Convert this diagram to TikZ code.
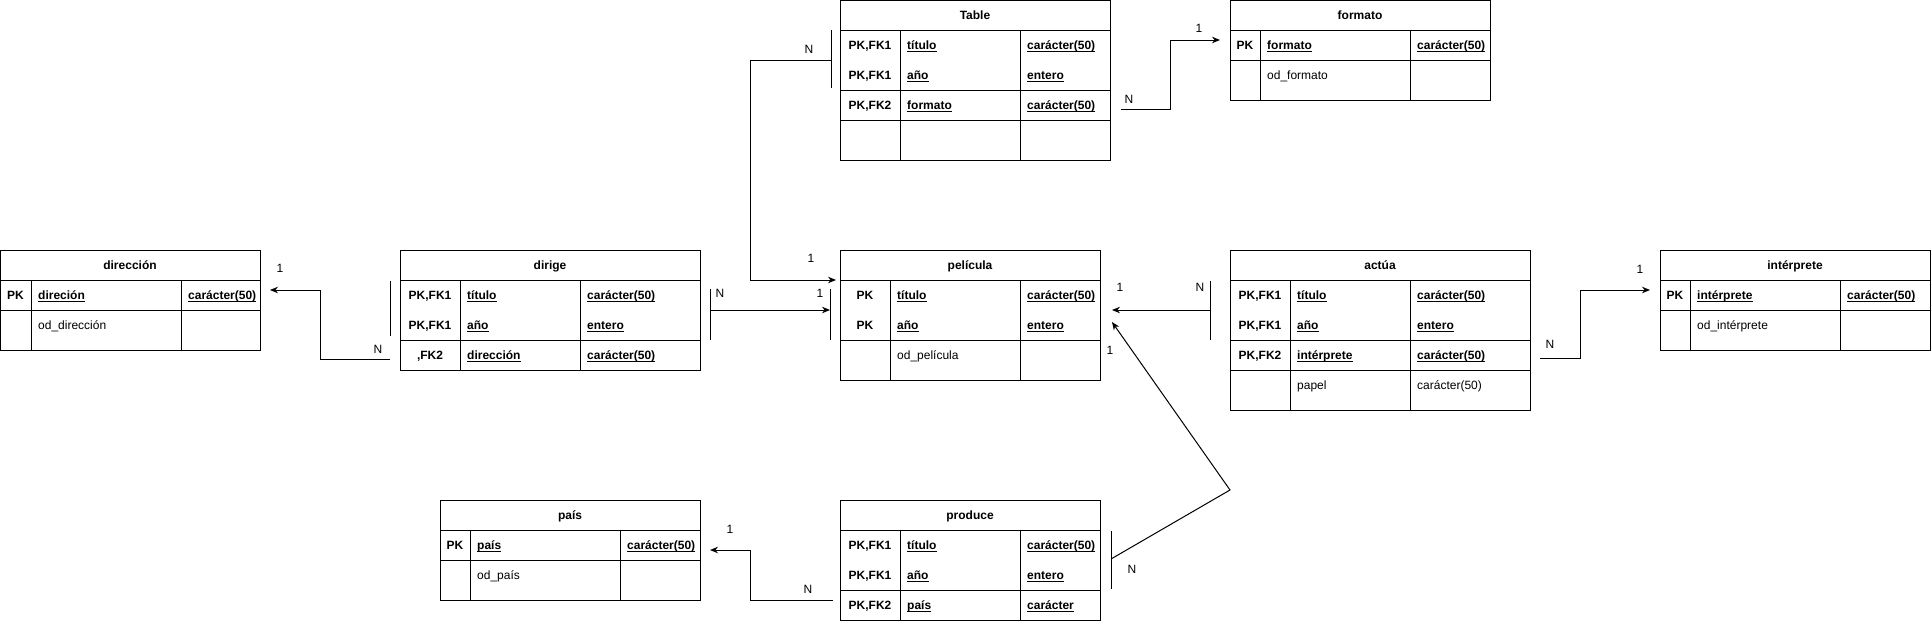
\documentclass[tikz,border=0pt]{standalone}
\usepackage{fontspec}
\setmainfont{Liberation Sans}
\usetikzlibrary{arrows.meta}
\newsavebox\ulbox
\newcommand{\ulfld}[1]{\sbox\ulbox{#1}\rlap{\rule[-1.9pt]{\wd\ulbox}{0.9pt}}\usebox\ulbox}
\tikzset{
  tbl/.style={draw, rectangle, anchor=north west, inner sep=0pt, outer sep=0pt, line width=1pt},
  tline/.style={line width=1pt},
  txt/.style={inner sep=0pt, font=\fontsize{12}{14}\selectfont},
  hdr/.style={txt, font=\fontsize{12}{14}\selectfont\bfseries, anchor=base},
  keyt/.style={txt, font=\fontsize{12}{14}\selectfont\bfseries, anchor=base},
  fldk/.style={txt, font=\fontsize{12}{14}\selectfont\bfseries, anchor=base west},
  fld/.style={txt, anchor=base west},
  card/.style={txt, anchor=center},
  conn/.style={line width=1pt, -{Stealth[length=8pt,width=6.5pt]}},
}
% #1 name #2 x0 #3 y0 #4 width #5 height #6 c1 #7 c2
\newcommand{\ertab}[7]{%
  \node[tbl, minimum width=#4pt, minimum height=#5pt] (#1) at (#2,#3) {};
  \draw[tline] (#2,#3+30) -- ++(#4,0);
  \draw[tline] (#6,#3+30) -- (#6,#3+#5);
  \draw[tline] (#7,#3+30) -- (#7,#3+#5);
}
\newcommand{\krow}[8]{%
  \node[keyt] (#1-k) at (#2,#5) {#6};
  \node[fldk] (#1-f) at (#3,#5) {\ulfld{#7}};
  \node[fldk] (#1-t) at (#4,#5) {\ulfld{#8}};
}
\begin{document}
\begin{tikzpicture}[x=1pt,y=-1pt]
\useasboundingbox (0,0) rectangle (1931,621);

% ---------- dirección
\ertab{direccion}{0.5}{250}{259.5}{100}{31}{181}
\draw[tline] (0.5,310) -- (260,310);
\node[hdr] (direccion-h) at (130,269.5) {dirección};
\krow{dn1}{15.5}{38}{188}{299.5}{PK}{direción}{carácter(50)}
\node[fld] (dn2-f) at (38,329.5) {od\_dirección};

% ---------- dirige
\ertab{dirige}{400}{250}{300}{120}{460}{580}
\draw[tline] (400,340) -- (700,340);
\node[hdr] (dirige-h) at (550,269.5) {dirige};
\krow{dg1}{430}{467}{587}{299.5}{PK,FK1}{título}{carácter(50)}
\krow{dg2}{430}{467}{587}{329.5}{PK,FK1}{año}{entero}
\krow{dg3}{430}{467}{587}{359.5}{,FK2}{dirección}{carácter(50)}

% ---------- Table
\ertab{table}{840}{0.5}{270}{159.5}{900}{1020}
\draw[tline] (840,90) -- (1110,90);
\draw[tline] (840,120) -- (1110,120);
\node[hdr] (table-h) at (975,19.5) {Table};
\krow{tb1}{870}{907}{1027}{49.5}{PK,FK1}{título}{carácter(50)}
\krow{tb2}{870}{907}{1027}{79.5}{PK,FK1}{año}{entero}
\krow{tb3}{870}{907}{1027}{109.5}{PK,FK2}{formato}{carácter(50)}

% ---------- formato
\ertab{formato}{1230}{0.5}{260}{99.5}{1260}{1410}
\draw[tline] (1230,60) -- (1490,60);
\node[hdr] (formato-h) at (1360,19.5) {formato};
\krow{fm1}{1245}{1267}{1417}{49.5}{PK}{formato}{carácter(50)}
\node[fld] (fm2-f) at (1267,79.5) {od\_formato};

% ---------- película
\ertab{pelicula}{840}{250}{260}{130}{890}{1020}
\draw[tline] (840,340) -- (1100,340);
\node[hdr] (pelicula-h) at (970,269.5) {película};
\krow{pl1}{865}{897}{1027}{299.5}{PK}{título}{carácter(50)}
\krow{pl2}{865}{897}{1027}{329.5}{PK}{año}{entero}
\node[fld] (pl3-f) at (897,359.5) {od\_película};

% ---------- actúa
\ertab{actua}{1230}{250}{300}{160}{1290}{1410}
\draw[tline] (1230,340) -- (1530,340);
\draw[tline] (1230,370) -- (1530,370);
\node[hdr] (actua-h) at (1380,269.5) {actúa};
\krow{ac1}{1260}{1297}{1417}{299.5}{PK,FK1}{título}{carácter(50)}
\krow{ac2}{1260}{1297}{1417}{329.5}{PK,FK1}{año}{entero}
\krow{ac3}{1260}{1297}{1417}{359.5}{PK,FK2}{intérprete}{carácter(50)}
\node[fld] (ac4-f) at (1297,389.5) {papel};
\node[fld] (ac4-t) at (1417,389.5) {carácter(50)};

% ---------- intérprete
\ertab{interprete}{1660}{250}{270}{100}{1690}{1840}
\draw[tline] (1660,310) -- (1930,310);
\node[hdr] (interprete-h) at (1795,269.5) {intérprete};
\krow{in1}{1675}{1697}{1847}{299.5}{PK}{intérprete}{carácter(50)}
\node[fld] (in2-f) at (1697,329.5) {od\_intérprete};

% ---------- país
\ertab{pais}{440}{500}{260}{100}{470}{620}
\draw[tline] (440,560) -- (700,560);
\node[hdr] (pais-h) at (570,519.5) {país};
\krow{ps1}{455}{477}{627}{549.5}{PK}{país}{carácter(50)}
\node[fld] (ps2-f) at (477,579.5) {od\_país};

% ---------- produce
\ertab{produce}{840}{500}{260}{120}{900}{1020}
\draw[tline] (840,590) -- (1100,590);
\node[hdr] (produce-h) at (970,519.5) {produce};
\krow{pr1}{870}{907}{1027}{549.5}{PK,FK1}{título}{carácter(50)}
\krow{pr2}{870}{907}{1027}{579.5}{PK,FK1}{año}{entero}
\krow{pr3}{870}{907}{1027}{609.5}{PK,FK2}{país}{carácter}

% ---------- cardinality bars
\draw[tline] (390,281) -- (390,336);
\draw[tline] (710,289) -- (710,340);
\draw[tline] (830,289) -- (830,340);
\draw[tline] (831,30) -- (831,88);
\draw[tline] (1210,281) -- (1210,340);
\draw[tline] (1111,531) -- (1111,589);

% ---------- connectors
\coordinate (c1s) at (390,359);
\coordinate (c1e) at (270,290);
\draw[conn] (c1s) -- (320,359) -- (320,290) -- (c1e);
\node[card] (c1n) at (378,349) {N};
\node[card] (c1o) at (280,268) {1};

\coordinate (c2s) at (710,310);
\coordinate (c2e) at (830,310);
\draw[conn] (c2s) -- (c2e);
\node[card] (c2n) at (720,293) {N};
\node[card] (c2o) at (820,293) {1};

\coordinate (c3s) at (831,60);
\coordinate (c3e) at (836,280);
\draw[conn] (c3s) -- (750,60) -- (750,280) -- (c3e);
\node[card] (c3n) at (809,49) {N};
\node[card] (c3o) at (811,258) {1};

\coordinate (c4s) at (1121,109);
\coordinate (c4e) at (1220,40);
\draw[conn] (c4s) -- (1170,109) -- (1170,40) -- (c4e);
\node[card] (c4n) at (1129,99) {N};
\node[card] (c4o) at (1199,28) {1};

\coordinate (c5s) at (1210,310);
\coordinate (c5e) at (1112,310);
\draw[conn] (c5s) -- (c5e);
\node[card] (c5n) at (1200,287) {N};
\node[card] (c5o) at (1120,287) {1};

\coordinate (c6s) at (1111,559);
\coordinate (c6e) at (1112,322);
\draw[conn] (c6s) -- (1230,490) -- (c6e);
\node[card] (c6n) at (1132,569) {N};
\node[card] (c6o) at (1110,350) {1};

\coordinate (c7s) at (1540,358);
\coordinate (c7e) at (1650,290);
\draw[conn] (c7s) -- (1580,358) -- (1580,290) -- (c7e);
\node[card] (c7n) at (1550,344) {N};
\node[card] (c7o) at (1640,269) {1};

\coordinate (c8s) at (833,600);
\coordinate (c8e) at (710,550);
\draw[conn] (c8s) -- (750,600) -- (750,550) -- (c8e);
\node[card] (c8n) at (808,589) {N};
\node[card] (c8o) at (730,529) {1};
\end{tikzpicture}
\end{document}
